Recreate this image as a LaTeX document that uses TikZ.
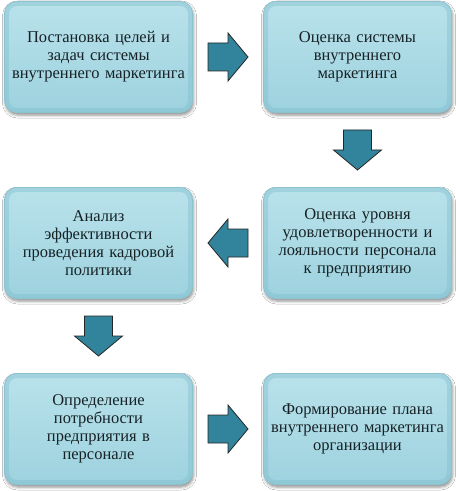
\documentclass[tikz,border=0pt]{standalone}
\usepackage{fontspec}
\setmainfont{Liberation Serif}
\usetikzlibrary{shadows.blur,calc}
\definecolor{boxtop}{HTML}{B9E2EB}
\definecolor{boxbot}{HTML}{9DD2DE}
\definecolor{boxedge}{HTML}{8DC3D1}
\definecolor{glowc}{HTML}{7DBCCC}
\definecolor{arrowfill}{HTML}{31849B}
\definecolor{txt}{HTML}{162226}
\tikzset{
 stage/.style={rectangle, rounded corners=12bp, minimum width=188bp, minimum height=111bp,
   text width=176bp, align=center, top color=boxtop, bottom color=boxbot,
   draw=boxedge, line width=0.8bp, font=\fontsize{16.5bp}{18bp}\selectfont, text=txt,
   blur shadow={shadow xshift=1bp, shadow yshift=-2.5bp, shadow blur radius=3bp, shadow opacity=45},
   path picture={\draw[glowc, line width=9bp, opacity=0.4, rounded corners=12bp]
     (path picture bounding box.south west) rectangle (path picture bounding box.north east);}},
 blockarrow/.style={draw=black!85, line width=0.8bp, fill=arrowfill, line join=miter}
}
\newcommand{\blockarr}[2]{%
  \path[blockarrow, shift={(#1)}, rotate=#2]
    (-20,-14) -- (0,-14) -- (0,-24) -- (20,0) -- (0,24) -- (0,14) -- (-20,14) -- cycle;}
\begin{document}
\begin{tikzpicture}[x=1bp,y=-1bp]
\fill[white] (0,0) rectangle (456,491);
\useasboundingbox (0,0) rectangle (456,491);
\node[stage] (b1) at (98.5,57) {Постановка целей и\\ задач системы\\ внутреннего маркетинга};
\node[stage] (b2) at (357.5,57) {Оценка системы\\ внутреннего\\ маркетинга};
\node[stage] (b3) at (357.5,243) {Оценка уровня\\ удовлетворенности и\\ лояльности персонала\\ к предприятию};
\node[stage] (b4) at (98.5,243) {Анализ\\ эффективности\\ проведения кадровой\\ политики};
\node[stage] (b5) at (98.5,429) {Определение\\ потребности\\ предприятия в\\ персонале};
\node[stage] (b6) at (357.5,429) {Формирование плана\\ внутреннего маркетинга\\ организации};
\coordinate (a1) at ($(b1.east)!0.5!(b2.west)$);
\coordinate (a2) at ($(b2.south)!0.5!(b3.north)$);
\coordinate (a3) at ($(b3.west)!0.5!(b4.east)$);
\coordinate (a4) at ($(b4.south)!0.5!(b5.north)$);
\coordinate (a5) at ($(b5.east)!0.5!(b6.west)$);
\blockarr{a1}{0}
\blockarr{a2}{-90}
\blockarr{a3}{180}
\blockarr{a4}{-90}
\blockarr{a5}{0}
\end{tikzpicture}
\end{document}
